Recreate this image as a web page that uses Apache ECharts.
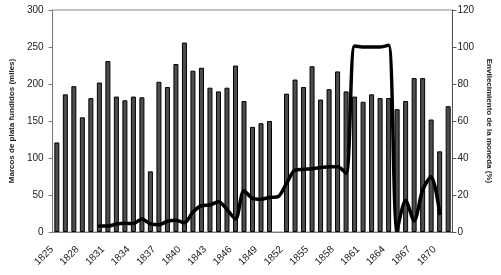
<!DOCTYPE html>
<html>
<head>
<meta charset="utf-8">
<script src="https://cdn.jsdelivr.net/npm/echarts@6/dist/echarts.min.js"></script>
<style>
html,body{margin:0;padding:0;background:#fff;}
#c{width:501px;height:275px;}
</style>
</head>
<body>
<div id="c"></div>
<script>
var years = [];
for (var y = 1825; y <= 1871; y++) years.push(String(y));

var marcos = [121,186,197,155,181,202,231,183,178,183,182,82,203,196,227,256,218,222,195,190,195,225,177,142,147,150,null,187,206,196,224,179,193,217,190,183,176,186,181,181,166,177,208,208,152,109,170];

var envilecimiento = [null,null,null,null,null,3.2,3.2,4.3,4.7,4.6,7.0,4.4,3.9,5.8,6.4,5.0,10.8,14.2,14.6,16.4,12.2,7.0,22.3,18.2,17.7,18.7,19.1,26.3,33.5,33.9,34.2,34.8,35.3,35.3,31.7,100.5,100,100,100,101,1.4,17,6.1,22.7,29.9,10.0,null];

var leftTicks = [0,50,100,150,200,250,300];
var rightTicks = [0,20,40,60,80,100,120];

var chart = echarts.init(document.getElementById('c'), null, {renderer:'canvas'});
var font = 'Liberation Sans, Arial, sans-serif';
chart.setOption({
  animation:false,
  backgroundColor:'#fff',
  grid:{left:48,right:43,top:10,bottom:43,show:true,borderColor:'#8a8a8a',borderWidth:1},
  xAxis:{
    type:'category', data:years, boundaryGap:true,
    axisLine:{lineStyle:{color:'#7a7a7a',width:1}},
    axisTick:{interval:0,length:4,lineStyle:{color:'#7a7a7a'}},
    axisLabel:{interval:2,rotate:45,fontSize:10,color:'#222',fontFamily:font,margin:11,padding:[0,7,0,0]}
  },
  yAxis:[{
    type:'value', min:leftTicks[0], max:leftTicks[leftTicks.length-1], interval:50,
    name:'Marcos de plata fundidos (miles)', nameLocation:'middle', nameGap:36, nameRotate:90,
    nameTextStyle:{fontSize:8,fontWeight:'bold',color:'#222',fontFamily:font},
    axisLine:{show:true,lineStyle:{color:'#7a7a7a'}},
    axisTick:{show:true,length:4,lineStyle:{color:'#7a7a7a'}},
    axisLabel:{fontSize:10,color:'#222',fontFamily:font,margin:9},
    splitLine:{show:false}
  },{
    type:'value', min:rightTicks[0], max:rightTicks[rightTicks.length-1], interval:20,
    name:'Envilecimiento de la moneda (%)', nameLocation:'middle', nameGap:28, nameRotate:-90,
    nameTextStyle:{fontSize:8,fontWeight:'bold',color:'#222',fontFamily:font},
    axisLine:{show:true,lineStyle:{color:'#555'}},
    axisTick:{show:true,length:4,inside:false,lineStyle:{color:'#555'}},
    axisLabel:{fontSize:10,color:'#222',fontFamily:font,margin:5},
    splitLine:{show:false}
  }],
  series:[{
    type:'bar', data:marcos, yAxisIndex:0, barWidth:5,
    itemStyle:{color:'#4d4d4d',borderColor:'#000',borderWidth:1}
  },{
    type:'line', data:envilecimiento, yAxisIndex:1, smooth:0.3,
    symbol:'none', z:5,
    lineStyle:{color:'#000',width:3.5,cap:'round',join:'round'}
  }]
});
</script>
</body>
</html>
